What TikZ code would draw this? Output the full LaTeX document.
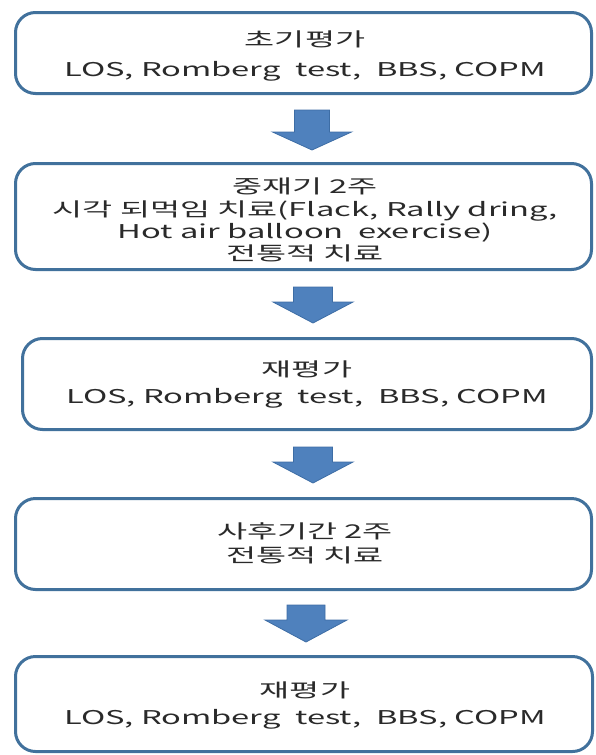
\documentclass[tikz,border=0pt]{standalone}
\usepackage{fontspec}
\setmainfont{Noto Sans CJK KR}[FakeStretch=1.72]
\definecolor{boxblue}{HTML}{41719C}
\definecolor{arrfill}{HTML}{4F81BD}
\definecolor{arrline}{HTML}{3D6DA5}
\definecolor{txtcol}{HTML}{2A2A2A}
\tikzset{
  box/.style={draw=boxblue, line width=3pt, rounded corners=20pt, fill=white, inner sep=0pt},
  txt/.style={text=txtcol, font=\fontsize{19}{22}\selectfont, inner sep=0pt, anchor=base},
  pics/downarr/.style n args={4}{code={
    \path[fill=arrfill, draw=arrline, line width=0.8pt, line join=miter]
      (-#1/2,0) -- (#1/2,0) -- (#1/2,#3) -- (#2/2,#3) -- (0,#3+#4)
      -- (-#2/2,#3) -- (-#1/2,#3) -- cycle;
  }}
}
\begin{document}
\begin{tikzpicture}[x=1pt,y=-1pt]
\useasboundingbox (0,0) rectangle (596,755);

% boxes
\node[box, minimum width=576pt, minimum height=81pt] (b1) at (303.5,53) {};
\node[box, minimum width=576pt, minimum height=106pt] (b2) at (303.5,216.5) {};
\node[box, minimum width=569pt, minimum height=91pt] (b3) at (307,384) {};
\node[box, minimum width=576pt, minimum height=91pt] (b4) at (303.5,544) {};
\node[box, minimum width=577pt, minimum height=95pt] (b5) at (304,704) {};

% texts
\node[txt] (t1a) at (305,46) {초기평가};
\node[txt] (t1b) at (305,76) {LOS, Romberg\ \ test,\ \ BBS, COPM};

\node[txt] (t2a) at (305,193) {중재기 2주};
\node[txt] (t2b) at (305,216) {시각 되먹임 치료(Flack, Rally dring,};
\node[txt] (t2c) at (305,238) {Hot air balloon\ \ exercise)};
\node[txt] (t2d) at (305,260) {전통적 치료};

\node[txt] (t3a) at (307,376) {재평가};
\node[txt] (t3b) at (307,403) {LOS, Romberg\ \ test,\ \ BBS, COPM};

\node[txt] (t4a) at (305,538) {사후기간 2주};
\node[txt] (t4b) at (305,562) {전통적 치료};

\node[txt] (t5a) at (305,697) {재평가};
\node[txt] (t5b) at (305,724) {LOS, Romberg\ \ test,\ \ BBS, COPM};

% block arrows
\pic at (312,110) {downarr={35}{79}{22}{18}};
\pic at (313,287) {downarr={39}{80}{15}{21}};
\pic at (313,447) {downarr={39}{80}{15}{21}};
\pic at (306,605) {downarr={38}{82}{15}{22}};
\end{tikzpicture}
\end{document}
